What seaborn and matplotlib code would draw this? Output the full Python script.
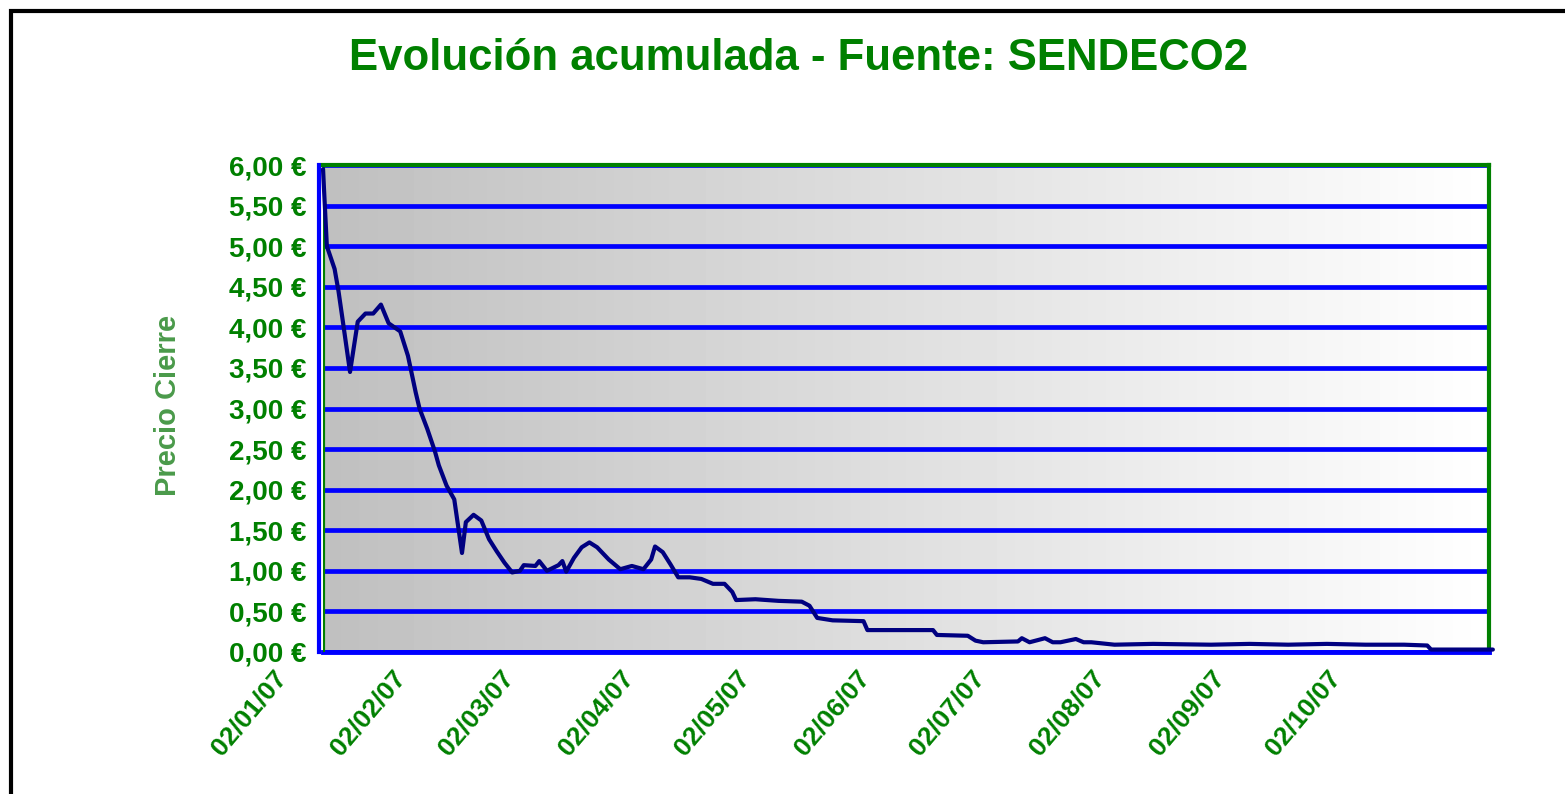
import numpy as np
import pandas as pd
import seaborn as sns
import matplotlib
matplotlib.use("Agg")
import matplotlib.pyplot as plt
import matplotlib.dates as mdates
import matplotlib.ticker as mticker
from matplotlib.patches import Rectangle
from matplotlib.transforms import ScaledTranslation

# closing price (EUR / t CO2), 2007
dates = [
    "2007-01-02", "2007-01-03", "2007-01-05", "2007-01-06", "2007-01-07",
    "2007-01-09", "2007-01-11", "2007-01-13", "2007-01-15", "2007-01-17",
    "2007-01-19", "2007-01-22", "2007-01-24", "2007-01-26", "2007-01-27",
    "2007-01-29", "2007-01-31", "2007-02-01", "2007-02-03", "2007-02-05",
    "2007-02-06", "2007-02-07", "2007-02-08", "2007-02-10", "2007-02-12",
    "2007-02-14", "2007-02-16", "2007-02-18", "2007-02-20", "2007-02-22",
    "2007-02-23", "2007-02-26", "2007-02-27", "2007-03-01", "2007-03-04",
    "2007-03-05", "2007-03-06", "2007-03-08", "2007-03-10", "2007-03-12",
    "2007-03-14", "2007-03-17", "2007-03-20", "2007-03-23", "2007-03-26",
    "2007-03-28", "2007-03-29", "2007-03-31", "2007-04-02", "2007-04-04",
    "2007-04-07", "2007-04-10", "2007-04-13", "2007-04-16", "2007-04-18",
    "2007-04-19", "2007-04-24", "2007-04-30", "2007-05-06", "2007-05-08",
    "2007-05-10", "2007-05-14", "2007-05-22", "2007-05-23", "2007-06-09",
    "2007-06-10", "2007-06-18", "2007-06-20", "2007-06-22", "2007-07-01",
    "2007-07-02", "2007-07-04", "2007-07-08", "2007-07-10", "2007-07-12",
    "2007-07-16", "2007-07-18", "2007-07-20", "2007-07-26", "2007-08-05",
    "2007-08-20", "2007-08-30", "2007-09-09", "2007-09-19", "2007-09-29",
    "2007-10-09", "2007-10-15", "2007-10-16", "2007-11-01",
]
prices = [
    5.95, 5.00, 4.72, 4.45, 4.12,
    3.45, 4.07, 4.17, 4.17, 4.28,
    4.05, 3.95, 3.65, 3.20, 3.00,
    2.75, 2.47, 2.30, 2.05, 1.88,
    1.55, 1.22, 1.60, 1.69, 1.62,
    1.39, 1.24, 1.10, 0.98, 1.00,
    1.07, 1.06, 1.12, 1.00, 1.07,
    1.12, 0.99, 1.16, 1.29, 1.35,
    1.29, 1.14, 1.02, 1.06, 1.02,
    1.14, 1.30, 1.23, 1.08, 0.92,
    0.92, 0.90, 0.84, 0.84, 0.74,
    0.64, 0.65, 0.63, 0.62, 0.57,
    0.42, 0.39, 0.38, 0.27, 0.27,
    0.21, 0.20, 0.14, 0.12, 0.13,
    0.17, 0.12, 0.17, 0.12, 0.12,
    0.16, 0.12, 0.12, 0.09, 0.10,
    0.09, 0.10, 0.09, 0.10, 0.09,
    0.09, 0.08, 0.03, 0.03,
]
y_ticks = [0, 0.5, 1, 1.5, 2, 2.5, 3, 3.5, 4, 4.5, 5, 5.5, 6]

df = pd.DataFrame({"fecha": pd.to_datetime(dates), "precio": prices})

sns.set_style("white")
plt.rcParams["font.family"] = ["Liberation Sans", "DejaVu Sans"]

green = "#008000"
blue = "#0000ff"
navy = "#000080"

fig = plt.figure(figsize=(15.65, 7.94), dpi=100)
pos = [323 / 1565, 1 - 652 / 794, (1489 - 323) / 1565, (652 - 165) / 794]

# gray -> white gradient behind the plot area
bg = fig.add_axes(pos, zorder=0)
bg.imshow(np.linspace(0.75, 1.0, 256)[None, :], cmap="gray", vmin=0, vmax=1,
          aspect="auto", extent=[0, 1, 0, 1])
bg.axis("off")

ax = fig.add_axes(pos, zorder=1)
ax.set_facecolor("none")

sns.lineplot(data=df, x="fecha", y="precio", color=navy, linewidth=3.0, ax=ax,
             clip_on=False, zorder=3)

ax.set_xlim(pd.Timestamp("2007-01-02"), pd.Timestamp("2007-10-31"))
ax.set_ylim(0, 6)

ax.set_yticks(y_ticks)
ax.yaxis.set_major_formatter(
    mticker.FuncFormatter(lambda v, p: f"{v:.2f} €".replace(".", ",")))
ax.xaxis.set_major_locator(mdates.DayLocator(bymonthday=2))
ax.xaxis.set_major_formatter(mdates.DateFormatter("%d/%m/%y"))

ax.yaxis.grid(True, color=blue, linewidth=3.4)
ax.set_axisbelow(True)

for side in ["top", "right"]:
    ax.spines[side].set_color(green)
    ax.spines[side].set_linewidth(3)
ax.spines["left"].set_color(blue)
ax.spines["left"].set_linewidth(3)
ax.spines["left"].set_position(("outward", 3))
ax.spines["bottom"].set_color(blue)
ax.spines["bottom"].set_linewidth(3.5)
ax.axvline(ax.get_xlim()[0], color=green, linewidth=3, zorder=2.6)

ax.tick_params(axis="y", direction="out", length=8, width=3, color=blue,
               labelcolor=green, labelsize=20, pad=1)
ax.tick_params(axis="x", direction="out", length=7, width=3, color=blue,
               labelcolor=green, labelsize=19, pad=3)
for lab in ax.get_yticklabels():
    lab.set_fontweight("bold")
shift = ScaledTranslation(-0.32, 0, fig.dpi_scale_trans)
for lab in ax.get_xticklabels():
    lab.set_rotation(50)
    lab.set_ha("right")
    lab.set_va("top")
    lab.set_fontweight("bold")
    lab.set_transform(lab.get_transform() + shift)

ax.set_xlabel("")
ax.set_ylabel("")
fig.text(168 / 1565, 1 - 405 / 794, "Precio Cierre", rotation=90,
         color="#4a9a4a", fontsize=21, fontweight="bold",
         ha="center", va="center")

fig.text(799 / 1565, 1 - 59 / 794, "Evolución acumulada - Fuente: SENDECO2",
         color=green, fontsize=31.5, fontweight="bold", ha="center", va="center")

# outer frame, only top and left edges fall inside the picture
fig.patches.append(Rectangle((11 / 1565, -0.2), 1.2, 1.2 - 11 / 794,
                             transform=fig.transFigure, fill=False,
                             edgecolor="black", linewidth=3, clip_on=False))

fig.savefig("out.png", dpi=100, facecolor="white")
